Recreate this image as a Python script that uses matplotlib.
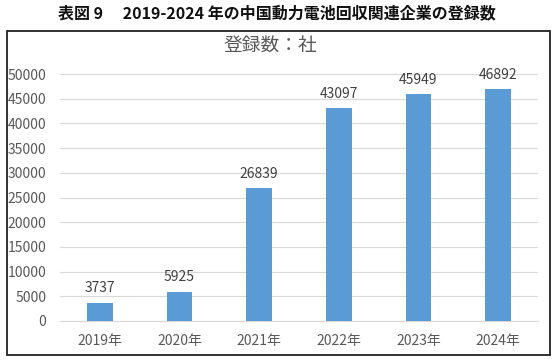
import matplotlib.pyplot as plt
from matplotlib.patches import Rectangle

plt.rcParams["font.family"] = ["Noto Sans CJK JP", "DejaVu Sans"]

years = ["2019年", "2020年", "2021年", "2022年", "2023年", "2024年"]
counts = [3737, 5925, 26839, 43097, 45949, 46892]
yticks = [0, 5000, 10000, 15000, 20000, 25000, 30000, 35000, 40000, 45000, 50000]


def main():
    fig = plt.figure(figsize=(5.57, 3.6), dpi=100)
    ax = fig.add_axes([60 / 557, 1 - 321 / 360, 478 / 557, 247 / 360])

    bars = ax.bar(years, counts, width=0.32, color="#5B9BD5", zorder=3)
    for bar, value in zip(bars, counts):
        ax.text(
            bar.get_x() + bar.get_width() / 2.0,
            value + 1500,
            str(value),
            ha="center",
            va="bottom",
            fontsize=10,
            color="#404040",
        )

    ax.set_xlim(-0.5, len(years) - 0.5)
    ax.set_ylim(0, 50000)
    ax.set_yticks(yticks)
    ax.set_yticklabels([str(t) for t in yticks])
    ax.grid(axis="y", color="#d9d9d9", linewidth=0.8, zorder=0)
    ax.tick_params(axis="both", length=0, colors="#595959", labelsize=10)
    ax.tick_params(axis="y", pad=10)
    ax.tick_params(axis="x", pad=9)
    for side in ["top", "right", "left"]:
        ax.spines[side].set_visible(False)
    ax.spines["bottom"].set_color("#d9d9d9")
    ax.spines["bottom"].set_linewidth(0.8)

    # frame around the chart
    fig.patches.append(
        Rectangle(
            (7 / 557, 1 - 355 / 360),
            543 / 557,
            324 / 360,
            transform=fig.transFigure,
            fill=False,
            edgecolor="#222222",
            linewidth=1.3,
        )
    )

    fig.text(270 / 557, 1 - 46 / 360, "登録数：社", ha="center", va="center",
             fontsize=13.5, color="#595959")
    fig.text(277 / 557, 1 - 13 / 360,
             "表図 9　 2019-2024 年の中国動力電池回収関連企業の登録数",
             ha="center", va="center", fontsize=11.5, fontweight="bold", color="#111111")

    fig.savefig("out.png", dpi=100)


if __name__ == "__main__":
    main()
